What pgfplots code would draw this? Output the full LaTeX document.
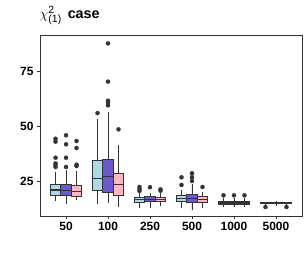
\documentclass[border=0pt]{standalone}
\usepackage{pgfplots}
\pgfplotsset{compat=1.18}
\usepgfplotslibrary{statistics}
\usepackage{fontspec}
\setmainfont{Liberation Sans}
\definecolor{cA}{HTML}{ADD8E6}
\definecolor{cB}{HTML}{6A5ACD}
\definecolor{cC}{HTML}{FFB6C1}
\definecolor{edgegray}{HTML}{333333}
\pgfplotsset{bx/.style={draw=edgegray, solid, line width=0.7pt, mark=*, mark size=2.1bp,
    mark options={fill=edgegray, draw=edgegray, line width=0.2pt, solid},
    boxplot/every median/.style={line width=1.3pt}}}
\begin{document}
\begin{tikzpicture}
\path[use as bounding box] (-40bp,-40bp) rectangle (267bp,216bp);
\begin{axis}[scale only axis,
  width=262bp, height=181bp,
  xmin=-0.62, xmax=5.62, ymin=9.4, ymax=91.7,
  xtick={0,...,5}, xticklabels={50,100,250,500,1000,5000},
  ytick={25,50,75},
  boxplot/draw direction=y,
  tick align=outside, xtick pos=left, ytick pos=left,
  major tick length=3bp,
  axis line style={draw=edgegray, line width=0.6pt},
  tick style={draw=edgegray, line width=0.6pt},
  tick label style={font=\fontsize{12}{12}\selectfont\bfseries, text=black},
  yticklabel={\pgfmathprintnumber[assume math mode=true]{\tick}},
]
% group 50
\addplot+[bx, fill=cA, boxplot prepared={draw position=-0.25, lower whisker=16.2, lower quartile=18.8, median=21.2, upper quartile=24.0, upper whisker=29.5, box extend=0.25, whisker extend=0}] coordinates {(0,44.5) (0,43.2) (0,35.9) (0,33.3) (0,32.6) (0,31.7)};
\addplot+[bx, fill=cB, boxplot prepared={draw position=0, lower whisker=14.8, lower quartile=19.0, median=20.9, upper quartile=23.8, upper whisker=30.2, box extend=0.25, whisker extend=0}] coordinates {(0,46.1) (0,42.0) (0,35.9) (0,31.7)};
\addplot+[bx, fill=cC, boxplot prepared={draw position=0.25, lower whisker=16.5, lower quartile=18.2, median=20.6, upper quartile=23.5, upper whisker=30.0, box extend=0.25, whisker extend=0}] coordinates {(0,43.5) (0,40.3) (0,32.7) (0,32.1)};
% group 100
\addplot+[bx, fill=cA, boxplot prepared={draw position=0.75, lower whisker=14.9, lower quartile=21.2, median=26.5, upper quartile=34.5, upper whisker=53.4, box extend=0.25, whisker extend=0}] coordinates {(0,56.2)};
\addplot+[bx, fill=cB, boxplot prepared={draw position=1, lower whisker=15.2, lower quartile=20.2, median=27.3, upper quartile=35.3, upper whisker=56.8, box extend=0.25, whisker extend=0}] coordinates {(0,87.9) (0,70.5) (0,61.8) (0,60.9) (0,59.7)};
\addplot+[bx, fill=cC, boxplot prepared={draw position=1.25, lower whisker=13.6, lower quartile=18.8, median=23.8, upper quartile=28.8, upper whisker=41.7, box extend=0.25, whisker extend=0}] coordinates {(0,48.8)};
% group 250
\addplot+[bx, fill=cA, boxplot prepared={draw position=1.75, lower whisker=13.2, lower quartile=15.8, median=17.0, upper quartile=17.9, upper whisker=20.0, box extend=0.25, whisker extend=0}] coordinates {(0,22.6) (0,21.7) (0,20.8)};
\addplot+[bx, fill=cB, boxplot prepared={draw position=2, lower whisker=12.9, lower quartile=15.9, median=17.0, upper quartile=18.2, upper whisker=20.0, box extend=0.25, whisker extend=0}] coordinates {(0,22.5)};
\addplot+[bx, fill=cC, boxplot prepared={draw position=2.25, lower whisker=14.0, lower quartile=15.9, median=16.8, upper quartile=17.9, upper whisker=20.0, box extend=0.25, whisker extend=0}] coordinates {(0,21.5) (0,20.9)};
% group 500
\addplot+[bx, fill=cA, boxplot prepared={draw position=2.75, lower whisker=12.9, lower quartile=15.9, median=17.3, upper quartile=19.0, upper whisker=21.2, box extend=0.25, whisker extend=0}] coordinates {(0,27.0) (0,23.5)};
\addplot+[bx, fill=cB, boxplot prepared={draw position=3, lower whisker=12.1, lower quartile=15.8, median=17.5, upper quartile=19.4, upper whisker=24.0, box extend=0.25, whisker extend=0}] coordinates {(0,28.8) (0,27.0) (0,25.3)};
\addplot+[bx, fill=cC, boxplot prepared={draw position=3.25, lower whisker=12.9, lower quartile=15.8, median=17.0, upper quartile=18.2, upper whisker=20.5, box extend=0.25, whisker extend=0}] coordinates {(0,22.6)};
% group 1000
\addplot+[bx, fill=cA, boxplot prepared={draw position=3.75, lower whisker=13.6, lower quartile=14.7, median=15.3, upper quartile=16.1, upper whisker=17.5, box extend=0.25, whisker extend=0}] coordinates {(0,18.8)};
\addplot+[bx, fill=cB, boxplot prepared={draw position=4, lower whisker=13.6, lower quartile=14.7, median=15.3, upper quartile=16.1, upper whisker=17.5, box extend=0.25, whisker extend=0}] coordinates {(0,18.8)};
\addplot+[bx, fill=cC, boxplot prepared={draw position=4.25, lower whisker=13.6, lower quartile=14.7, median=15.3, upper quartile=16.1, upper whisker=17.5, box extend=0.25, whisker extend=0}] coordinates {(0,18.8)};
% group 5000
\addplot+[bx, fill=cA, boxplot prepared={draw position=4.75, lower whisker=14.2, lower quartile=15.0, median=15.2, upper quartile=15.5, upper whisker=15.9, box extend=0.25, whisker extend=0}] coordinates {(0,13.5)};
\addplot+[bx, fill=cB, boxplot prepared={draw position=5, lower whisker=14.1, lower quartile=15.0, median=15.2, upper quartile=15.5, upper whisker=16.2, box extend=0.25, whisker extend=0}] coordinates {};
\addplot+[bx, fill=cC, boxplot prepared={draw position=5.25, lower whisker=14.2, lower quartile=15.0, median=15.2, upper quartile=15.5, upper whisker=15.9, box extend=0.25, whisker extend=0}] coordinates {(0,13.5)};
\end{axis}
\node[anchor=base west, inner sep=0pt] at (-0.5bp,197.7bp)
  {\fontsize{14.4}{14.4}\selectfont\bfseries $\chi^{\mbox{\fontsize{10.5}{10.5}\selectfont\mdseries 2}}_{\mbox{\fontsize{10.5}{10.5}\selectfont\mdseries (1)}}$\hspace{6pt}case};
\end{tikzpicture}
\end{document}
